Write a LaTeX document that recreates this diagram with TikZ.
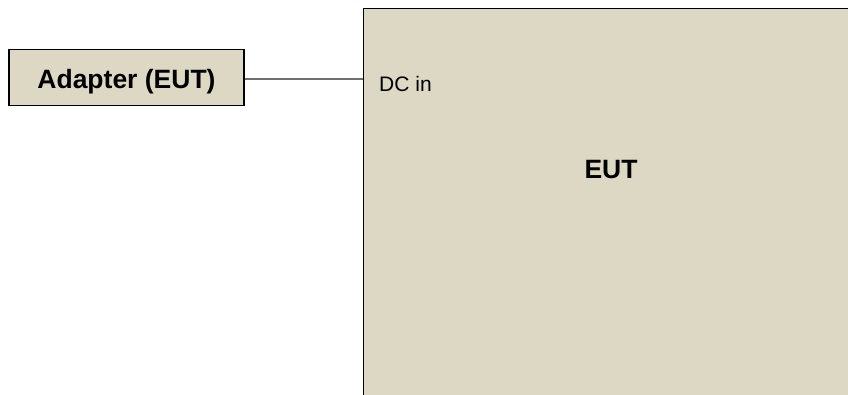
\documentclass[tikz,border=0pt]{standalone}
\usepackage{fontspec}
\setmainfont{Liberation Sans}
\usepackage{tikz}
\usetikzlibrary{positioning}
\usetikzlibrary{calc}
\definecolor{boxtan}{HTML}{DDD8C3}
\definecolor{wiregray}{HTML}{707070}
\tikzset{
    unitbox/.style={draw=black,line width=1.4pt,fill=boxtan,inner sep=0pt},
    wire/.style={draw=wiregray,line width=1.2pt}
}

\begin{document}
\begin{tikzpicture}[x=1pt,y=-1pt]
\useasboundingbox (0,0) rectangle (848,394);
\node[unitbox,minimum width=235pt,minimum height=56pt,text height=21pt,text depth=0pt,font=\fontsize{26.5}{31}\selectfont\bfseries] (adapter) at (126.5,77.5) {Adapter (EUT)};
\node[unitbox,anchor=north west,minimum width=520pt,minimum height=420pt] (eut) at (363,8) {};
\node[font=\fontsize{26.5}{31}\selectfont\bfseries] (euttext) at (611,170) {EUT};
\node[anchor=west,inner sep=0pt,font=\fontsize{21}{25}\selectfont] (dcin) at (379,84) {DC in};
\coordinate (dcport) at (eut.west |- 0,79);
\draw[wire] (adapter.east |- dcport) -- (dcport);
\end{tikzpicture}
\end{document}
